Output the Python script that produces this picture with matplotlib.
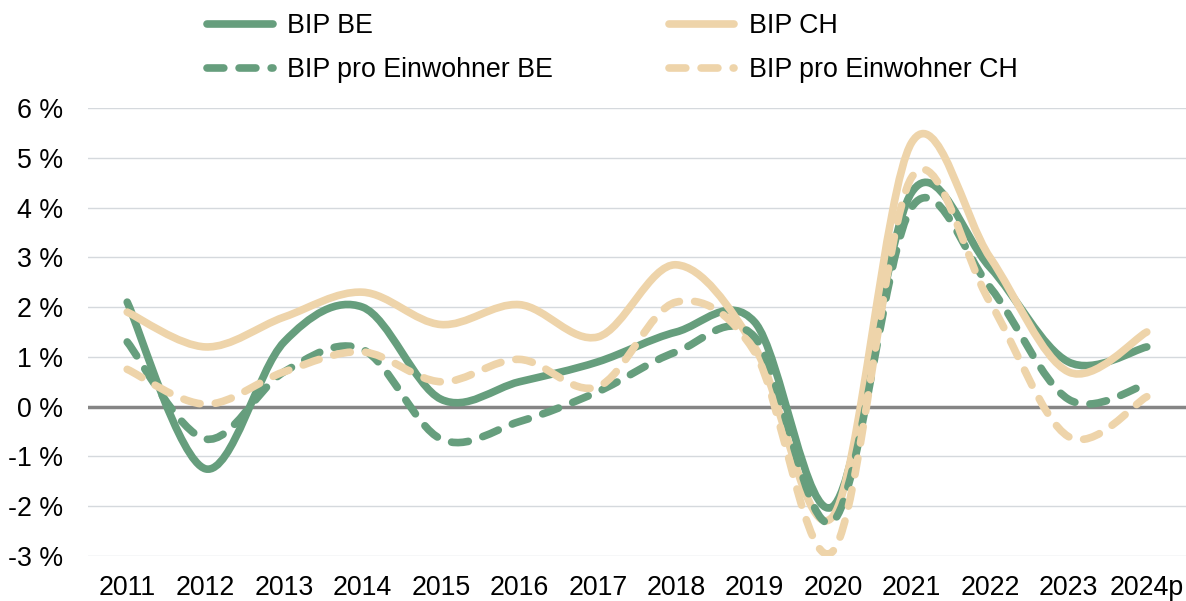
import numpy as np
import matplotlib.pyplot as plt
from matplotlib.path import Path
from matplotlib.patches import PathPatch
from matplotlib.lines import Line2D

plt.rcParams['font.family'] = ['Liberation Sans', 'DejaVu Sans']

years = ['2011', '2012', '2013', '2014', '2015', '2016', '2017',
         '2018', '2019', '2020', '2021', '2022', '2023', '2024p']

# Wachstum in %
bip_be = [2.1, -1.25, 1.3, 2.0, 0.15, 0.5, 0.9, 1.5, 1.7, -2.0, 4.3, 2.8, 0.9, 1.2]
bip_ch = [1.9, 1.2, 1.8, 2.3, 1.65, 2.05, 1.4, 2.85, 1.2, -2.2, 5.3, 3.0, 0.7, 1.5]
pro_kopf_be = [1.3, -0.65, 0.7, 1.15, -0.65, -0.3, 0.3, 1.1, 1.4, -2.3, 4.0, 2.4, 0.15, 0.45]
pro_kopf_ch = [0.75, 0.05, 0.7, 1.1, 0.5, 0.95, 0.4, 2.1, 1.1, -2.9, 4.6, 2.1, -0.6, 0.2]

green = '#669E7D'
beige = '#EED4AA'


def smooth_path(vals):
    # excel-artige geglaettete linie (catmull-rom als bezier)
    x = np.arange(len(vals), dtype=float)
    y = np.asarray(vals, dtype=float)
    n = len(y)
    verts = [(x[0], y[0])]
    codes = [Path.MOVETO]
    for i in range(n - 1):
        a = max(i - 1, 0)
        b = min(i + 2, n - 1)
        c1 = (x[i] + (x[i + 1] - x[a]) / 6, y[i] + (y[i + 1] - y[a]) / 6)
        c2 = (x[i + 1] - (x[b] - x[i]) / 6, y[i + 1] - (y[b] - y[i]) / 6)
        verts += [c1, c2, (x[i + 1], y[i + 1])]
        codes += [Path.CURVE4] * 3
    return Path(verts, codes)


fig = plt.figure(figsize=(11.86, 6.01), dpi=100)
ax = fig.add_axes([88 / 1186, 45 / 601, 1098 / 1186, 448 / 601])

lw = 5.5
dash = (0, (2.2, 2.0))
series = [
    (bip_be, green, '-', 'BIP BE'),
    (bip_ch, beige, '-', 'BIP CH'),
    (pro_kopf_be, green, dash, 'BIP pro Einwohner BE'),
    (pro_kopf_ch, beige, dash, 'BIP pro Einwohner CH'),
]

ax.axhline(0, color='#858585', lw=2.5, zorder=2)
for vals, col, ls, lab in series:
    p = PathPatch(smooth_path(vals), fill=False, edgecolor=col, lw=lw,
                  linestyle=ls, capstyle='round', joinstyle='round', zorder=3)
    ax.add_patch(p)

fs = 19.3
ax.set_xlim(-0.5, len(years) - 0.5)
ax.set_ylim(-3, 6)
ax.set_xticks(range(len(years)))
ax.set_xticklabels(years)
ax.set_yticks(range(-3, 7))
ax.set_yticklabels([f'{v} %' for v in range(-3, 7)])
ax.tick_params(length=0, labelsize=fs)
ax.tick_params(axis='y', pad=18)
ax.tick_params(axis='x', pad=14)
ax.grid(axis='y', color='#D5D9DD', lw=1.0, zorder=1)
ax.set_axisbelow(True)
for s in ax.spines.values():
    s.set_visible(False)

handles = [Line2D([], [], color=green, lw=lw, solid_capstyle='round'),
           Line2D([], [], color=green, lw=lw, ls=dash, dash_capstyle='round'),
           Line2D([], [], color=beige, lw=lw, solid_capstyle='round'),
           Line2D([], [], color=beige, lw=lw, ls=dash, dash_capstyle='round')]
labels = ['BIP BE', 'BIP pro Einwohner BE', 'BIP CH', 'BIP pro Einwohner CH']
fig.legend(handles, labels, ncol=2, loc='upper left',
           bbox_to_anchor=(207 / 1186, 1 - 13 / 601), frameon=False,
           fontsize=fs, handlelength=2.45, handletextpad=0.55,
           columnspacing=4.3, labelspacing=0.68, borderpad=0, borderaxespad=0)

fig.savefig('out.png', dpi=100)
